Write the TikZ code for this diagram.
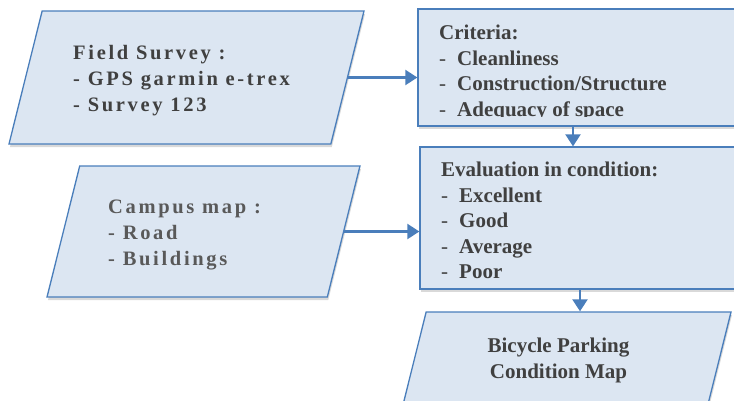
\documentclass[tikz,border=0pt]{standalone}
\usepackage{fontspec}
\setmainfont{Liberation Serif}
\newfontfamily\spacedsurvey[LetterSpace=13]{Liberation Serif}
\newfontfamily\spacedcampus[LetterSpace=13]{Liberation Serif}
\usetikzlibrary{arrows.meta, shapes.geometric, shadows}

\definecolor{boxfill}{HTML}{DCE6F2}
\definecolor{boxline}{HTML}{4A7EBB}
\definecolor{txtdark}{HTML}{404040}
\definecolor{txtgrey}{HTML}{595959}

\newcommand{\dashitem}[1]{\makebox[18pt][l]{\mdseries -}#1}

\begin{document}
\begin{tikzpicture}[x=1pt, y=-1pt]
 \tikzstyle{box}=[rectangle, draw=boxline, fill=boxfill, line width=1.3pt, drop shadow={shadow xshift=1pt, shadow yshift=-3pt, opacity=0.3}]
 \tikzstyle{datain}=[trapezium, trapezium left angle=76, trapezium right angle=104, draw=boxline, fill=boxfill, line width=1.3pt, inner sep=0pt, text depth=0pt, drop shadow={shadow xshift=1pt, shadow yshift=-3pt, opacity=0.3}]
 \tikzstyle{txt}=[inner sep=0pt, anchor=north west, align=left, text=txtdark, font=\bfseries\fontsize{21}{25.5}\selectfont]
 \tikzstyle{arr}=[-{Triangle[length=12pt, width=15pt]}, draw=boxline, line width=2.2pt]

 \useasboundingbox (0,0) rectangle (734,400);
 \clip (0,0) rectangle (734,400);

 % Input data
 \node (nsurvey) at (186.5,77.5) [datain, text width=288.7pt, text height=133pt] {};
 \node (ncampus) at (203.5,231.5) [datain, text width=247.6pt, text height=131pt] {};

 % Process boxes
 \node (ncriteria) at (579,67.5) [box, minimum width=322pt, minimum height=117pt] {};
 \node (neval) at (580,218) [box, minimum width=320pt, minimum height=142pt] {};

 % Output
 \node (nmap) at (562,378.5) [datain, text width=271.7pt, text height=133pt] {};

 % Texts
 \node (tsurvey) at (73,45) [txt, font=\spacedsurvey\bfseries\fontsize{20.5}{26}\selectfont]
  {Field Survey :\\- GPS garmin e-trex\\- Survey 123};
 \begin{scope}
  \clip (47,166) rectangle (360,269);
  \node (tcampus) at (108,200) [txt, text=txtgrey, font=\spacedcampus\bfseries\fontsize{20.5}{26}\selectfont]
   {Campus map :\\- Road\\- Buildings};
 \end{scope}
 \begin{scope}
  \clip (418,9) rectangle (740,116);
  \node (tcriteria) at (439,25) [txt]
   {Criteria:\\\dashitem{Cleanliness}\\\dashitem{Construction/Structure}\\\dashitem{Adequacy of space}};
 \end{scope}
 \node (teval) at (441,162) [txt]
  {Evaluation in condition:\\\dashitem{Excellent}\\\dashitem{Good}\\\dashitem{Average}\\\dashitem{Poor}};
 \node (tmap) at (558.5,338) [txt, anchor=north, align=center]
  {Bicycle Parking\\Condition Map};

 % Connectors
 \draw [arr] (nsurvey.east) -- (nsurvey.east -| ncriteria.west);
 \draw [arr] (ncampus.east) -- (ncampus.east -| neval.west);
 \draw [arr] ([xshift=-6pt]ncriteria.south) -- ([xshift=-6pt]ncriteria.south |- neval.north);
 \draw [arr] (neval.south) -- (neval.south |- nmap.north);

\end{tikzpicture}
\end{document}
